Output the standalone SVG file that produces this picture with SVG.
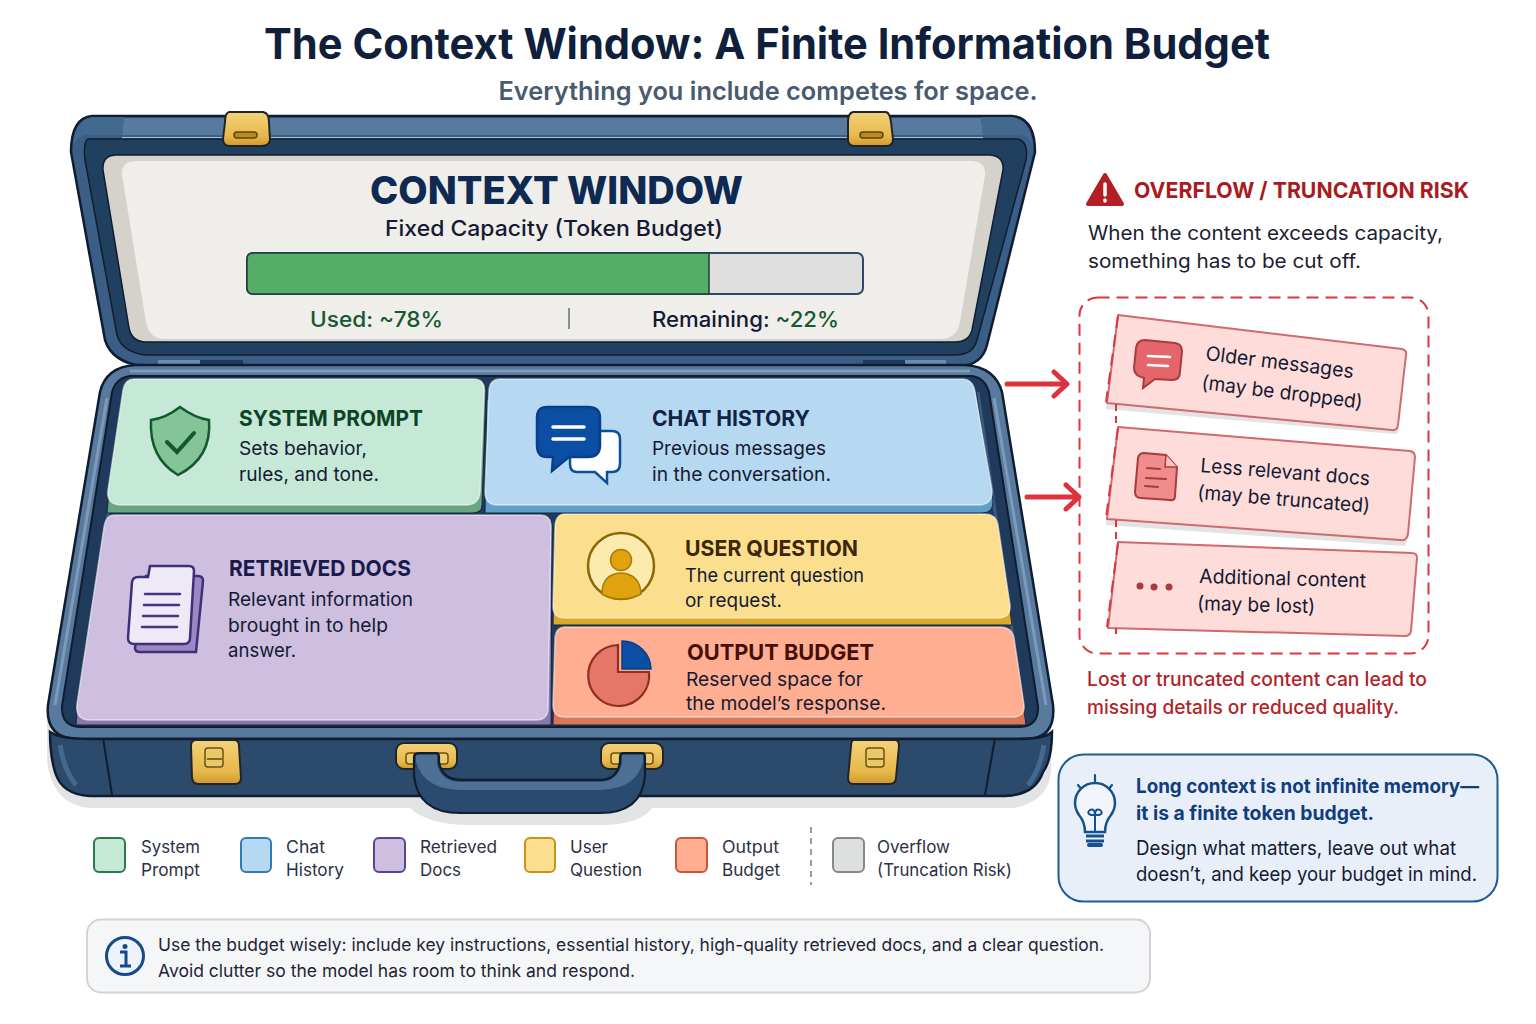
<svg xmlns="http://www.w3.org/2000/svg" width="1536" height="1024" viewBox="0 0 1536 1024">
<defs>
<linearGradient id="gold" x1="0" y1="0" x2="0" y2="1"><stop offset="0" stop-color="#f4d27a"/><stop offset=".7" stop-color="#e8b94c"/><stop offset="1" stop-color="#cf9a2c"/></linearGradient>
</defs>
<style>
text{font-family:Inter,"Noto Sans","Liberation Sans",sans-serif;fill:#141a33}
.h{font-weight:700;font-size:22px}
.b{font-size:18.800px}
.lg{font-size:17.200px;fill:#2b3145}
.lat{fill:url(#gold);stroke:#20252b;stroke-width:2}
.latd{fill:#b98a1e;stroke:#5f4710;stroke-width:1.500}
.ln{fill:none;stroke-linecap:round}
.card{fill:#fddcd9;stroke:#cf6a6e;stroke-width:2;stroke-linejoin:round}
.sw{stroke-width:2}
.r{font-size:19.800px;fill:#1c2030}
.c{font-size:19.800px}
.face{stroke:#fff;stroke-opacity:.55;stroke-width:1.500}
.lip{stroke:#15253d;stroke-width:1}
.dash{fill:none;stroke:#d8383f;stroke-width:2;stroke-dasharray:12 7}
</style>
<rect width="1536" height="1024" fill="#fff"/>
<g id="title">
<text x="767" y="59" text-anchor="middle" font-size="43" font-weight="700" style="fill:#0f1f3c" textLength="1006" lengthAdjust="spacingAndGlyphs">The Context Window: A Finite Information Budget</text>
<text x="768" y="100" text-anchor="middle" font-size="25.500" font-weight="600" style="fill:#4a5a70" textLength="539" lengthAdjust="spacingAndGlyphs">Everything you include competes for space.</text>
</g>
<g id="suitcase">
<path d="M47 720 L47 760 Q52 805 90 808 L410 808 Q428 825 470 825 L600 825 Q640 825 652 808 L1015 808 Q1050 800 1051 770 L1051 720Z" fill="#e1e3e4"/>
<!-- lid -->
<path d="M92 116 L1012 116 Q1035 118 1035 152 L987 345 Q982 365 960 366 L142 366 Q112 362 105 340 L71 152 Q71 118 92 116Z" fill="#3a5e86" stroke="#101d31" stroke-width="2.500"/>
<path d="M124 118H981L983 135H122Z" fill="#587a9e"/>
<path d="M122 138H983" stroke="#a9bdd0" stroke-width="2"/>
<path d="M124 117 L122 135 L85 135 Q76 137 73 147 Q74 120 92 117Z M981 117 L983 135 L1020 135 Q1030 137 1033 147 Q1030 120 1012 117Z" fill="#44698f"/>
<path d="M124 139H981" stroke="#1a2f4a" stroke-width="1"/>
<path d="M88 139 L1018 139 Q1029 142 1026 160 L977 340 Q973 355 955 355 L145 355 Q122 352 117 335 L85 160 Q83 142 88 139Z" fill="#21405f" stroke="#101d31" stroke-width="1.500"/>
<path d="M115 155 L990 155 Q1004 156 1003 170 L972 330 Q969 342 955 342 L146 342 Q132 342 129 328 L103 170 Q102 156 115 155Z" fill="#d5d2cc" stroke="#101d31" stroke-width="1.500"/>
<path d="M135 161 L972 161 Q986 162 985 175 L960 322 Q957 339 940 339 L165 339 Q149 339 146 322 L122 175 Q121 162 135 161Z" fill="#f0eeea"/>
<path d="M158 360H200V366H158Z" fill="#6e8cab"/><path d="M200 360H243V366H200Z" fill="#1f3a5b"/>
<path d="M863 360H905V366H863Z" fill="#1f3a5b"/><path d="M905 360H946V366H905Z" fill="#6e8cab"/>
<!-- base -->
<path d="M135 365 L965 365 Q995 367 1002 392 L1053 705 Q1056 736 1030 739 L74 739 Q45 736 48 705 L100 392 Q106 367 135 365Z" fill="#587a9e" stroke="#101d31" stroke-width="2.500"/>
<path d="M50 732 Q60 739 90 739 L1015 739 Q1045 739 1052 732 Q1052 760 1043 772 Q1035 795 1005 796 L90 796 Q62 795 55 772 Q50 755 50 732Z" fill="#2c4a6b" stroke="#101d31" stroke-width="2.500"/>
<path d="M103 738 L112 795M995 738 L985 795" stroke="#101d31" stroke-width="2" fill="none"/>
<path d="M60 745 Q64 770 76 785" stroke="#44698f" stroke-width="5" fill="none"/>
<path d="M1044 745 Q1040 770 1028 785" stroke="#44698f" stroke-width="5" fill="none"/>
<path d="M130 371 L970 371 M994 398 L1046 705 M107 398 L55 705" stroke="#7d9bb8" stroke-width="3" fill="none"/>
<path d="M130 376 L972 376 Q985 378 989 392 L1038 706 Q1039 726 1020 727 L80 727 Q61 726 62 706 L112 392 Q116 378 130 376Z" fill="#1f3a5b" stroke="#101d31" stroke-width="2"/>
<path d="M80 715 L125 392 M1024 715 L978 392" stroke="#385b80" stroke-width="3" fill="none"/>
</g>
<g id="lid-latches">
<path class="lat" d="M229 112H263Q269 113 269 122L270 140Q269 146 262 146H230Q223 146 223 139L225 122Q225 113 229 112Z"/>
<rect class="latd" x="234" y="132" width="23" height="6" rx="3"/>
<path class="lat" d="M853 112H886Q890 113 891 122L893 139Q893 146 886 146H855Q848 146 848 140L848 122Q848 113 853 112Z"/>
<rect class="latd" x="860" y="132" width="23" height="6" rx="3"/>
</g>
<g id="card-system-prompt">
<path class="lip" d="M132 379 H474 Q486 379 486 390 L482 505 Q482 513 472 513 H107 L109 490Z" fill="#6aa583"/>
<path class="face" d="M134 379 H474 Q485 379 484 392 L480 492 Q479 505 466 505 H122 Q106 505 108 490 L123 390 Q125 379 134 379Z" fill="#c6e8d6"/>
<path d="M180 407 Q195 418 209 420 Q212 458 178 475 Q149 458 151 420 Q166 418 180 407Z" fill="#85c497" stroke="#12592f" stroke-width="2.500"/>
<path class="ln" d="M167 442 L177 452 L194 433" stroke="#0f5a2e" stroke-width="4"/>
<text class="h" x="239" y="426" style="fill:#0d4428" textLength="184" lengthAdjust="spacingAndGlyphs">SYSTEM PROMPT</text>
<text class="b" x="239" y="455" textLength="128" lengthAdjust="spacingAndGlyphs">Sets behavior,</text>
<text class="b" x="239" y="481" textLength="140" lengthAdjust="spacingAndGlyphs">rules, and tone.</text>
</g>
<g id="card-chat-history">
<path class="lip" d="M500 379 H960 Q973 379 976 392 L993 500 Q994 513 982 513 H485 L487 400Z" fill="#5fa0c8"/>
<path class="face" d="M500 379 H962 Q973 379 975 392 L992 490 Q993 505 978 505 H498 Q485 505 485 492 L489 390 Q490 379 500 379Z" fill="#b6d9f1"/>
<path d="M580 431 H612 Q620 431 620 439 V464 Q620 472 612 472 H607 L607 483 L595 472 H577 Q570 472 570 464 V439 Q570 431 580 431Z" fill="#fff" stroke="#0e4f9c" stroke-width="2.500"/>
<path d="M547 407 H588 Q600 407 600 418 V445 Q600 457 588 457 H569 L552 471 L553 457 H547 Q537 457 537 445 V418 Q537 407 547 407Z" fill="#0b4ea3" stroke="#0a3f87" stroke-width="2.500"/>
<path class="ln" d="M553 427H584M553 439H584" stroke="#fff" stroke-width="3.500"/>
<text class="h" x="652" y="426" style="fill:#0f2447" textLength="158" lengthAdjust="spacingAndGlyphs">CHAT HISTORY</text>
<text class="b" x="652" y="455" textLength="174" lengthAdjust="spacingAndGlyphs">Previous messages</text>
<text class="b" x="652" y="481" textLength="179" lengthAdjust="spacingAndGlyphs">in the conversation.</text>
</g>
<g id="card-retrieved-docs">
<path class="lip" d="M110 515 H540 Q552 515 552 526 L551 725 H76 L78 700Z" fill="#8a78ad"/>
<path class="face" d="M114 515 H540 Q551 515 551 527 L548 708 Q548 720 536 720 H90 Q75 720 77 704 L104 527 Q106 515 114 515Z" fill="#cebfe1"/>
<path d="M146 576 H198 Q203 576 203 581 L196 652 H140 Q135 652 135 648Z" fill="#9a88c4" stroke="#3f2f78" stroke-width="2.500"/>
<path d="M150 566 H189 Q194 566 194 571 L190 638 Q190 644 184 644 H134 Q128 644 128 638 L132 582 Q133 577 138 577 H148Z" fill="#eee9f6" stroke="#3f2f78" stroke-width="2.500"/>
<path class="ln" d="M145 594H180M144 605H179M143 616H178M142 627H177" stroke="#463583" stroke-width="2.500"/>
<text class="h" x="229" y="576" style="fill:#1a1a4a" textLength="182" lengthAdjust="spacingAndGlyphs">RETRIEVED DOCS</text>
<text class="b" x="228" y="606" textLength="185" lengthAdjust="spacingAndGlyphs">Relevant information</text>
<text class="b" x="228" y="632" textLength="160" lengthAdjust="spacingAndGlyphs">brought in to help</text>
<text class="b" x="228" y="657" textLength="68" lengthAdjust="spacingAndGlyphs">answer.</text>
</g>
<g id="card-user-question">
<path class="lip" d="M565 514 H985 Q996 514 998 525 L1012 625 H553 L555 526Z" fill="#dca92c"/>
<path class="face" d="M565 514 H985 Q996 514 998 525 L1010 605 Q1011 618 998 618 H565 Q553 618 553 606 L555 526 Q556 514 565 514Z" fill="#fbdf8f"/>
<circle cx="621" cy="566" r="33" fill="#fdeaae" stroke="#8a6708" stroke-width="2.500"/>
<circle cx="621" cy="560" r="10.500" fill="#e0a30e" stroke="#a87c08" stroke-width="1.500"/>
<path d="M602 594 Q602 574 621 573 Q640 574 641 594 Q632 599 621 599 Q610 599 602 594Z" fill="#e0a30e" stroke="#a87c08" stroke-width="1.500"/>
<text class="h" x="685" y="556" style="fill:#3c2708" textLength="173" lengthAdjust="spacingAndGlyphs">USER QUESTION</text>
<text class="b" x="685" y="582" textLength="179" lengthAdjust="spacingAndGlyphs">The current question</text>
<text class="b" x="685" y="607" textLength="97" lengthAdjust="spacingAndGlyphs">or request.</text>
</g>
<g id="card-output-budget">
<path class="lip" d="M565 627 H1002 Q1012 627 1014 638 L1026 725 H553 L555 638Z" fill="#d9775a"/>
<path class="face" d="M565 627 H1000 Q1012 627 1014 638 L1024 705 Q1025 717 1012 717 H565 Q553 717 553 705 L555 638 Q556 627 565 627Z" fill="#ffae91"/>
<path d="M618 645 V672 H649 A30.500 30.500 0 1 1 618 645Z" fill="#e57768" stroke="#8f2f24" stroke-width="2.200"/>
<path d="M622 641 A29 29 0 0 1 651 669 H622Z" fill="#0b4ea3" stroke="#0a3f87" stroke-width="1.500"/>
<text class="h" x="687" y="660" style="fill:#45100a" textLength="187" lengthAdjust="spacingAndGlyphs">OUTPUT BUDGET</text>
<text class="b" x="686" y="686" textLength="177" lengthAdjust="spacingAndGlyphs">Reserved space for</text>
<text class="b" x="686" y="710" textLength="200" lengthAdjust="spacingAndGlyphs">the model’s response.</text>
</g>
<g id="base-latches">
<path class="lat" d="M196 740H234Q239 740 239 746L241 778Q241 784 235 784H198Q193 784 192 778L191 746Q191 740 196 740Z"/>
<rect x="205" y="748" width="18" height="19" rx="3" fill="#e9c868" stroke="#6c5112" stroke-width="1.500"/><path d="M207 759H222" stroke="#5f4710" stroke-width="1.500"/>
<path class="lat" d="M854 740H895Q899 740 899 746L896 778Q896 784 889 784H853Q848 784 848 778L851 746Q851 740 854 740Z"/>
<rect x="866" y="748" width="18" height="19" rx="3" fill="#e9c868" stroke="#6c5112" stroke-width="1.500"/><path d="M868 759H883" stroke="#5f4710" stroke-width="1.500"/>
<rect class="lat" x="396" y="743" width="61" height="26" rx="8"/>
<rect class="lat" x="601" y="743" width="62" height="26" rx="8"/>
<rect x="406" y="753" width="42" height="11" rx="3" fill="#f0cc6e" stroke="#6c5112" stroke-width="1.500"/>
<rect x="611" y="753" width="42" height="11" rx="3" fill="#f0cc6e" stroke="#6c5112" stroke-width="1.500"/>
</g>
<g id="handle">
<path d="M437 772 Q445 778 462 778 H600 Q615 778 622 772 V780 H437Z" fill="#223c59"/>
<path d="M420 753 H436 Q439 753 439 757 V762 Q442 780 462 780 H600 Q617 780 620 762 V757 Q620 753 624 753 H642 Q645 753 645 757 V776 Q642 813 600 813 H460 Q418 813 414 776 V757 Q414 753 420 753Z" fill="#2a4a6e" stroke="#101d31" stroke-width="2.200"/>
<path d="M416 755H437V764Q441 782 462 782H598Q617 782 622 764V755H643V762Q636 789 600 790H460Q424 789 416 762Z" fill="#4f7096"/>
</g>
<g id="capacity">
<text x="556.500" y="204" text-anchor="middle" font-size="38" font-weight="800" style="fill:#0e2a52" textLength="373" lengthAdjust="spacingAndGlyphs">CONTEXT WINDOW</text>
<text x="554" y="236" text-anchor="middle" font-size="22" font-weight="500" textLength="338" lengthAdjust="spacingAndGlyphs">Fixed Capacity (Token Budget)</text>
<rect x="247" y="253" width="616" height="41" rx="6" fill="#dedfde" stroke="#2f4a66" stroke-width="2"/>
<path d="M253 253 H709 V294 H253 Q247 294 247 288 V259 Q247 253 253 253Z" fill="#54ae67" stroke="#1d3f3a" stroke-width="1.500"/>
<text x="310" y="327" font-size="21.500" font-weight="500" style="fill:#14592f" textLength="133" lengthAdjust="spacingAndGlyphs">Used: ~78%</text>
<path d="M569 308V329" stroke="#8c8f94" stroke-width="2"/>
<text x="652" y="327" font-size="21.500" font-weight="500" textLength="187" lengthAdjust="spacingAndGlyphs">Remaining: <tspan style="fill:#14592f">~22%</tspan></text>
</g>
<g id="connectors">
<g class="ln" stroke="#e0323c" stroke-width="5" stroke-linejoin="round">
<path d="M1007 384H1066M1054 372L1067 384L1054 396"/>
<path d="M1027 497H1078M1066 485L1079 497L1066 509"/>
</g>
</g>
<g id="overflow-heading">
<path d="M1105 175 L1122 204 H1088Z" fill="#b31f25" stroke="#b31f25" stroke-width="4" stroke-linejoin="round"/>
<path d="M1105 184V195M1105 200V201" stroke="#fff" stroke-width="3.500" stroke-linecap="round"/>
<text x="1134" y="198" font-size="22" font-weight="700" style="fill:#a81b20" textLength="335" lengthAdjust="spacingAndGlyphs">OVERFLOW / TRUNCATION RISK</text>
<text class="r" x="1088" y="240" textLength="355" lengthAdjust="spacingAndGlyphs">When the content exceeds capacity,</text>
<text class="r" x="1088" y="268" textLength="273" lengthAdjust="spacingAndGlyphs">something has to be cut off.</text>
</g>
<g id="overflow-box">
<rect class="dash" x="1079.500" y="297.500" width="349" height="356" rx="18"/>
</g>
<g id="overflow-older">
<path d="M1106 403 L1106 409 L1394 434 Q1399 434 1399 428Z" fill="#dcdcdc" opacity=".8"/>
<path class="card" d="M1118 315 L1402 349 Q1407 350 1406 355 L1398 425 Q1397 431 1392 430 L1107 403Z"/>
<path class="dash" d="M1118 316 L1106 402"/>
<path d="M1145 340 L1175 343 Q1182 344 1182 351 L1180 372 Q1180 380 1172 380 L1155 379 L1143 388 L1144 378 Q1134 376 1134 368 L1136 348 Q1137 340 1145 340Z" fill="#e5666a" stroke="#a93a3e" stroke-width="2"/>
<path class="ln" d="M1148 356L1170 357M1148 365L1168 366" stroke="#fff" stroke-width="2.500"/>
<text class="c" transform="translate(1205 360) rotate(7)" textLength="149" lengthAdjust="spacingAndGlyphs">Older messages</text>
<text class="c" transform="translate(1201 389) rotate(7)" textLength="162" lengthAdjust="spacingAndGlyphs">(may be dropped)</text>
</g>
<g id="overflow-less">
<path d="M1106 519 L1106 525 L1403 546 Q1407 546 1407 538Z" fill="#dcdcdc" opacity=".8"/>
<path class="card" d="M1118 427 L1410 451 Q1415 452 1415 457 L1408 534 Q1407 541 1400 540 L1107 519Z"/>
<path class="dash" d="M1118 428 L1106 518"/>
<path d="M1144 453 L1166 455 L1177 467 L1175 496 Q1175 501 1170 500 L1141 498 Q1135 498 1135 492 L1138 458 Q1139 453 1144 453Z" fill="#ee8d8b" stroke="#a93a3e" stroke-width="2"/>
<path d="M1166 455 L1165 467 L1177 467" fill="#f8c3c1" stroke="#a93a3e" stroke-width="1.500"/>
<path class="ln" d="M1147 468L1160 469M1146 478L1166 479M1145 486L1158 487" stroke="#a93a3e" stroke-width="2"/>
<text class="c" transform="translate(1200 472) rotate(4.500)" textLength="170" lengthAdjust="spacingAndGlyphs">Less relevant docs</text>
<text class="c" transform="translate(1197 499) rotate(4.500)" textLength="173" lengthAdjust="spacingAndGlyphs">(may be truncated)</text>
</g>
<g id="overflow-additional">
<path class="card" d="M1118 542 L1412 553 Q1417 553 1417 558 L1411 631 Q1410 636 1405 636 L1108 628Z"/>
<path class="dash" d="M1118 543 L1107 627"/>
<path d="M1116 404V426M1116 520V541M1116 628V634" stroke="#d8383f" stroke-width="2" stroke-dasharray="7 5" fill="none"/>
<circle cx="1140" cy="586" r="3.500" fill="#a93a3e"/><circle cx="1154" cy="587" r="3.500" fill="#a93a3e"/><circle cx="1169" cy="587" r="3.500" fill="#a93a3e"/>
<text class="c" transform="translate(1199 583) rotate(1.500)" textLength="167" lengthAdjust="spacingAndGlyphs">Additional content</text>
<text class="c" transform="translate(1197 610) rotate(1.500)" textLength="118" lengthAdjust="spacingAndGlyphs">(may be lost)</text>
</g>
<g id="overflow-note">
<text x="1087" y="686" font-size="19.500" font-weight="500" style="fill:#b1242a" textLength="340" lengthAdjust="spacingAndGlyphs">Lost or truncated content can lead to</text>
<text x="1087" y="714" font-size="19.500" font-weight="500" style="fill:#b1242a" textLength="312" lengthAdjust="spacingAndGlyphs">missing details or reduced quality.</text>
</g>
<g id="tip-box">
<rect x="1058.500" y="754.500" width="439" height="147" rx="25" fill="#e8eff8" stroke="#1d5c96" stroke-width="2"/>
<path d="M1095 775V784M1078 785L1082 790M1112 785L1108 790" stroke="#15508f" stroke-width="2.200" fill="none" stroke-linecap="round"/>
<path d="M1085 832 Q1085 822 1079 815 Q1075 809 1075 803 A20 20 0 1 1 1115 803 Q1115 809 1111 815 Q1105 822 1105 832Z" fill="#f2f6fb" stroke="#15508f" stroke-width="2.500"/>
<path d="M1095 832V815M1095 815Q1095 808 1090 810 Q1086 813 1091 815 L1095 815 L1099 815 Q1104 813 1100 810 Q1095 808 1095 815" fill="none" stroke="#15508f" stroke-width="2"/>
<path d="M1086 836H1104M1086 841H1104" stroke="#15508f" stroke-width="3"/><path d="M1089 845H1101" stroke="#15508f" stroke-width="4" stroke-linecap="round"/>
<text x="1136" y="793" font-size="19.800" font-weight="700" style="fill:#103d7c" textLength="343" lengthAdjust="spacingAndGlyphs">Long context is not infinite memory—</text>
<text x="1136" y="820" font-size="19.800" font-weight="700" style="fill:#103d7c" textLength="238" lengthAdjust="spacingAndGlyphs">it is a finite token budget.</text>
<text class="c" x="1136" y="855" textLength="320" lengthAdjust="spacingAndGlyphs">Design what matters, leave out what</text>
<text class="c" x="1136" y="881" textLength="341" lengthAdjust="spacingAndGlyphs">doesn’t, and keep your budget in mind.</text>
</g>
<g id="legend">
<rect class="sw" x="94" y="838" width="31" height="34" rx="5" fill="#c6e8d6" stroke="#2a7a4c"/>
<text class="lg" x="141" y="853" textLength="59" lengthAdjust="spacingAndGlyphs">System</text><text class="lg" x="141" y="876" textLength="59" lengthAdjust="spacingAndGlyphs">Prompt</text>
<rect class="sw" x="241" y="838" width="30" height="34" rx="5" fill="#b6d9f1" stroke="#2e7cb8"/>
<text class="lg" x="286" y="853" textLength="39" lengthAdjust="spacingAndGlyphs">Chat</text><text class="lg" x="286" y="876" textLength="58" lengthAdjust="spacingAndGlyphs">History</text>
<rect class="sw" x="374" y="838" width="31" height="34" rx="5" fill="#cebfe1" stroke="#56449a"/>
<text class="lg" x="420" y="853" textLength="77" lengthAdjust="spacingAndGlyphs">Retrieved</text><text class="lg" x="420" y="876" textLength="41" lengthAdjust="spacingAndGlyphs">Docs</text>
<rect class="sw" x="525" y="838" width="30" height="34" rx="5" fill="#fbdf8f" stroke="#c9921b"/>
<text class="lg" x="570" y="853" textLength="38" lengthAdjust="spacingAndGlyphs">User</text><text class="lg" x="570" y="876" textLength="72" lengthAdjust="spacingAndGlyphs">Question</text>
<rect class="sw" x="676" y="838" width="31" height="34" rx="5" fill="#ffae91" stroke="#c9553a"/>
<text class="lg" x="722" y="853" textLength="57" lengthAdjust="spacingAndGlyphs">Output</text><text class="lg" x="722" y="876" textLength="58" lengthAdjust="spacingAndGlyphs">Budget</text>
<path d="M811 827V885" stroke="#9a9da2" stroke-width="2" stroke-dasharray="6 5"/>
<rect class="sw" x="833" y="838" width="31" height="34" rx="5" fill="#dedfdf" stroke="#85888c"/>
<text class="lg" x="877" y="853" textLength="73" lengthAdjust="spacingAndGlyphs">Overflow</text><text class="lg" x="877" y="876" textLength="135" lengthAdjust="spacingAndGlyphs">(Truncation Risk)</text>
</g>
<g id="info-bar">
<rect x="87" y="919.500" width="1063" height="73" rx="14" fill="#f5f6f7" stroke="#d2d4d7" stroke-width="2"/>
<circle cx="125" cy="956" r="18.500" fill="#eef3f9" stroke="#134a8c" stroke-width="3"/>
<circle cx="125" cy="946.500" r="2.500" fill="#134a8c"/>
<path d="M120 952H126V966M120 966H131" fill="none" stroke="#134a8c" stroke-width="3"/>
<text x="158" y="951" font-size="17.500" style="fill:#1e2436" textLength="946" lengthAdjust="spacingAndGlyphs">Use the budget wisely: include key instructions, essential history, high-quality retrieved docs, and a clear question.</text>
<text x="158" y="977" font-size="17.500" style="fill:#1e2436" textLength="477" lengthAdjust="spacingAndGlyphs">Avoid clutter so the model has room to think and respond.</text>
</g>
</svg>
